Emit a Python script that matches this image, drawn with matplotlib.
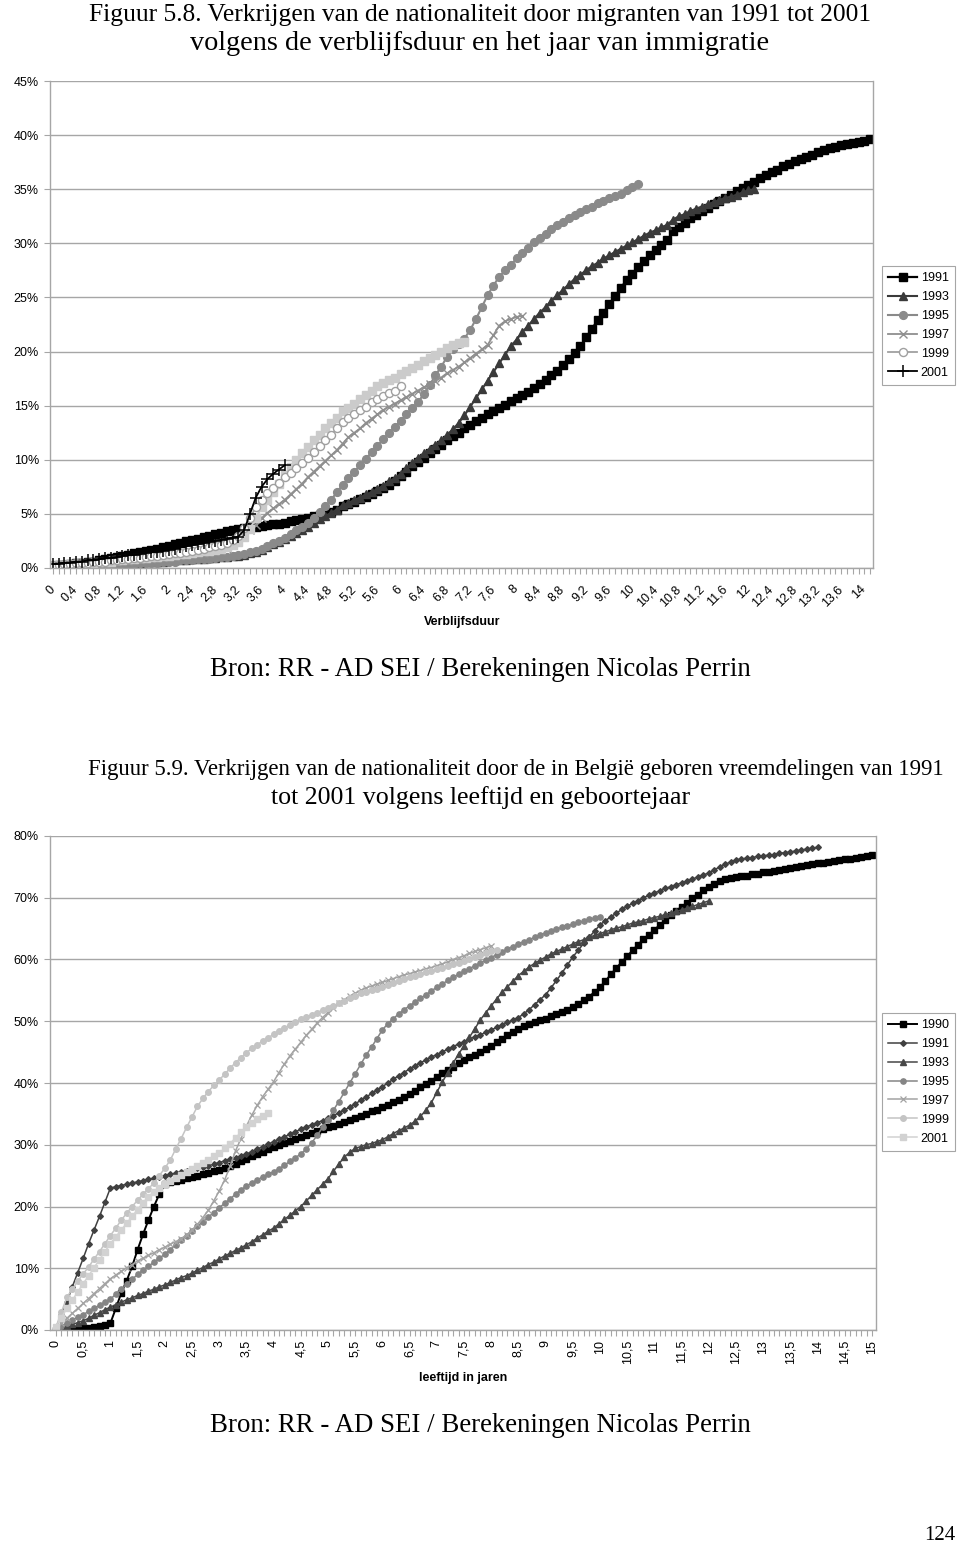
import matplotlib
matplotlib.use('Agg')
import matplotlib.pyplot as plt
import numpy as np
from matplotlib.ticker import FuncFormatter

# ---------------- Chart 1 data (Verblijfsduur, step 0.1 year) ----------------
c1_1991 = [0.2,0.3,0.3,0.4,0.5,0.5,0.6,0.6,0.7,0.8,
           0.9,1.0,1.1,1.2,1.4,1.5,1.6,1.7,1.8,1.9,
           2.0,2.2,2.3,2.5,2.6,2.7,2.9,3.0,3.1,3.2,
           3.4,3.5,3.6,3.7,3.8,3.8,3.9,4.0,4.1,4.1,
           4.2,4.3,4.4,4.5,4.6,4.8,4.9,5.1,5.2,5.4,
           5.7,5.9,6.1,6.4,6.6,6.8,7.1,7.4,7.7,8.0,
           8.5,8.9,9.4,9.8,10.2,10.6,11.0,11.4,11.8,12.2,
           12.5,12.9,13.2,13.6,13.9,14.2,14.5,14.8,15.1,15.4,
           15.7,16.0,16.3,16.6,17.0,17.4,17.8,18.2,18.8,19.3,
           19.9,20.5,21.3,22.1,22.9,23.6,24.4,25.1,25.9,26.6,
           27.2,27.8,28.4,28.9,29.4,29.8,30.3,31.1,31.5,31.9,
           32.3,32.6,33.0,33.3,33.6,33.9,34.2,34.5,34.8,35.1,
           35.4,35.7,36.0,36.3,36.6,36.8,37.1,37.3,37.6,37.8,
           38.0,38.2,38.4,38.6,38.8,38.9,39.1,39.2,39.3,39.4,
           39.5,39.6]
c1_1993 = [0.2,0.2,0.2,0.3,0.3,0.3,0.3,0.3,0.4,0.4,
           0.4,0.4,0.5,0.5,0.5,0.5,0.6,0.6,0.6,0.6,
           0.7,0.7,0.7,0.7,0.8,0.8,0.8,0.9,0.9,1.0,
           1.0,1.1,1.1,1.2,1.4,1.5,1.7,1.9,2.2,2.4,
           2.7,3.0,3.2,3.5,3.8,4.2,4.5,4.8,5.1,5.4,
           5.8,6.0,6.3,6.5,6.8,7.0,7.3,7.6,8.0,8.3,
           8.7,9.2,9.7,10.2,10.6,11.0,11.4,11.8,12.3,12.8,
           13.4,14.1,14.9,15.7,16.5,17.3,18.1,18.9,19.7,20.5,
           21.1,21.8,22.4,23.0,23.6,24.1,24.7,25.2,25.7,26.2,
           26.7,27.1,27.5,27.9,28.2,28.6,28.9,29.2,29.5,29.8,
           30.1,30.4,30.7,31.0,31.2,31.5,31.7,32.2,32.5,32.7,
           33.0,33.2,33.4,33.6,33.8,34.0,34.2,34.3,34.5,34.7,
           34.9,35.0]
c1_1995 = [0.1,0.1,0.1,0.2,0.2,0.2,0.2,0.3,0.3,0.3,
           0.3,0.4,0.4,0.4,0.4,0.5,0.5,0.5,0.5,0.6,
           0.6,0.6,0.7,0.7,0.7,0.8,0.8,0.8,0.9,1.0,
           1.0,1.1,1.2,1.3,1.5,1.6,1.8,2.0,2.3,2.5,
           2.8,3.1,3.5,3.8,4.2,4.6,5.2,5.7,6.3,7.0,
           7.7,8.3,8.9,9.5,10.1,10.7,11.3,11.9,12.5,13.0,
           13.6,14.2,14.8,15.3,16.1,16.9,17.8,18.6,19.5,20.2,
           20.7,21.2,22.0,23.0,24.1,25.2,26.1,26.9,27.5,28.0,
           28.6,29.1,29.6,30.1,30.5,30.9,31.3,31.7,32.0,32.3,
           32.6,32.9,33.2,33.4,33.7,33.9,34.2,34.4,34.6,34.9,
           35.2,35.5]
c1_1997 = [0.2,0.2,0.2,0.3,0.3,0.3,0.4,0.4,0.4,0.5,
           0.5,0.5,0.6,0.6,0.7,0.7,0.8,0.8,0.9,0.9,
           1.0,1.0,1.1,1.1,1.2,1.3,1.3,1.4,1.5,1.6,
           1.8,2.1,2.5,3.0,3.5,4.0,4.6,5.1,5.5,5.9,
           6.3,6.8,7.3,7.8,8.4,8.9,9.4,9.9,10.4,10.9,
           11.5,12.1,12.5,12.9,13.4,13.8,14.2,14.6,14.9,15.2,
           15.5,15.8,16.1,16.4,16.7,17.0,17.3,17.6,18.0,18.3,
           18.6,19.0,19.4,19.8,20.2,20.6,21.5,22.4,22.8,23.0,
           23.2,23.3]
c1_1999 = [0.3,0.3,0.4,0.4,0.5,0.5,0.5,0.6,0.6,0.6,
           0.7,0.7,0.8,0.8,0.9,0.9,1.0,1.1,1.1,1.2,
           1.3,1.4,1.4,1.5,1.6,1.7,1.8,1.9,2.0,2.1,
           2.3,2.6,3.0,3.7,4.6,5.6,6.3,6.9,7.4,7.9,
           8.4,8.8,9.2,9.7,10.2,10.7,11.3,11.8,12.3,12.9,
           13.5,13.9,14.2,14.6,14.9,15.3,15.6,15.9,16.2,16.4,
           16.8]
c1_extra = [0.3,0.3,0.3,0.4,0.4,0.4,0.5,0.5,0.6,0.6,
            0.6,0.7,0.7,0.8,0.8,0.9,0.9,1.0,1.0,1.1,
            1.1,1.2,1.3,1.3,1.4,1.5,1.6,1.6,1.7,1.8,
            1.9,2.1,2.4,2.9,3.6,4.6,5.6,6.3,7.0,7.8,
            8.6,9.3,10.0,10.6,11.2,11.8,12.3,12.9,13.4,13.9,
            14.5,14.8,15.2,15.6,16.0,16.4,16.8,17.1,17.4,17.6,
            17.9,18.2,18.5,18.8,19.1,19.4,19.7,20.0,20.3,20.6,
            20.8,20.9]
c1_2001 = [0.4,0.4,0.5,0.5,0.6,0.6,0.7,0.7,0.8,0.9,
           0.9,1.0,1.1,1.2,1.2,1.3,1.4,1.5,1.5,1.6,
           1.7,1.8,1.9,2.0,2.1,2.2,2.3,2.4,2.5,2.6,
           2.7,2.8,2.9,3.5,5.0,6.5,7.5,8.2,8.7,9.1,
           9.5]
c1_labels = ['1991', '1993', '1995', '1997', '1999', '2001']

# ---------------- Chart 2 data (leeftijd in jaren, step 0.1 year) ----------------
c2_1990 = [0.0,0.0,0.1,0.1,0.2,0.3,0.4,0.5,0.6,0.8,
           1.1,3.5,6.0,8.0,10.3,13.0,15.5,17.8,20.0,22.0,
           23.6,23.9,24.1,24.3,24.6,24.8,25.0,25.2,25.5,25.7,
           25.9,26.2,26.6,26.9,27.3,27.7,28.1,28.5,28.9,29.3,
           29.7,30.0,30.3,30.6,31.0,31.3,31.6,31.9,32.2,32.5,
           32.8,33.1,33.4,33.7,34.0,34.3,34.7,35.0,35.4,35.7,
           36.1,36.5,36.9,37.3,37.7,38.2,38.7,39.3,39.8,40.4,
           41.0,41.6,42.1,42.6,43.2,43.7,44.2,44.6,45.1,45.5,
           46.0,46.6,47.1,47.7,48.2,48.8,49.2,49.6,49.9,50.2,
           50.4,50.8,51.1,51.5,51.9,52.3,52.8,53.4,54.0,54.7,
           55.5,56.5,57.6,58.6,59.6,60.5,61.5,62.4,63.3,64.0,
           64.8,65.6,66.4,67.2,67.9,68.5,69.2,69.9,70.5,71.2,
           71.8,72.3,72.7,73.0,73.2,73.3,73.5,73.6,73.8,73.9,
           74.1,74.2,74.4,74.5,74.7,74.8,75.0,75.1,75.3,75.4,
           75.6,75.7,75.8,75.9,76.1,76.2,76.3,76.5,76.6,76.7,
           76.9]
c2_1991 = [0.4,2.4,4.5,7.0,9.3,11.6,14.0,16.2,18.4,20.7,
           23.0,23.2,23.4,23.6,23.8,24.0,24.2,24.4,24.6,24.8,
           25.0,25.2,25.4,25.6,25.8,26.0,26.2,26.4,26.6,26.9,
           27.1,27.4,27.7,27.9,28.2,28.5,28.9,29.3,29.7,30.1,
           30.5,30.9,31.3,31.7,32.1,32.5,32.9,33.2,33.6,33.9,
           34.3,34.7,35.2,35.6,36.1,36.6,37.2,37.7,38.3,38.8,
           39.4,40.0,40.6,41.2,41.7,42.3,42.8,43.3,43.7,44.2,
           44.6,45.0,45.5,45.9,46.3,46.7,47.1,47.5,47.8,48.2,
           48.6,49.0,49.4,49.8,50.2,50.6,51.2,51.9,52.7,53.5,
           54.3,55.4,56.6,57.8,59.1,60.4,61.5,62.6,63.6,64.6,
           65.6,66.3,66.9,67.5,68.1,68.6,69.1,69.5,70.0,70.4,
           70.8,71.1,71.5,71.8,72.1,72.4,72.7,73.0,73.4,73.7,
           74.0,74.5,75.0,75.4,75.8,76.1,76.3,76.4,76.5,76.7,
           76.8,76.9,77.0,77.2,77.3,77.4,77.6,77.7,77.9,78.0,
           78.2]
c2_1993 = [0.2,0.4,0.7,0.9,1.2,1.5,1.9,2.4,2.8,3.3,
           3.7,4.1,4.5,4.9,5.2,5.6,5.9,6.3,6.6,7.0,
           7.3,7.7,8.1,8.5,8.8,9.2,9.7,10.1,10.6,11.0,
           11.5,12.0,12.4,12.9,13.3,13.8,14.3,14.9,15.4,16.0,
           16.5,17.2,17.9,18.6,19.3,20.0,20.9,21.8,22.7,23.6,
           24.5,25.7,26.9,28.0,28.8,29.4,29.7,30.0,30.2,30.5,
           30.8,31.3,31.8,32.3,32.7,33.2,33.8,34.6,35.6,36.8,
           38.5,40.1,41.7,43.2,44.7,46.0,47.4,48.8,50.2,51.4,
           52.5,53.6,54.7,55.6,56.5,57.4,58.1,58.8,59.4,59.9,
           60.4,60.9,61.3,61.7,62.1,62.5,62.9,63.2,63.6,63.9,
           64.2,64.5,64.8,65.1,65.3,65.6,65.9,66.1,66.3,66.6,
           66.8,67.0,67.3,67.5,67.8,68.0,68.3,68.6,68.9,69.2,
           69.5]
c2_1995 = [0.3,0.7,1.1,1.6,2.1,2.5,3.0,3.5,4.0,4.5,
           5.0,5.8,6.6,7.4,8.2,9.0,9.7,10.3,11.0,11.6,
           12.3,13.0,13.8,14.5,15.3,16.0,16.8,17.5,18.3,19.0,
           19.8,20.5,21.2,22.0,22.7,23.3,23.8,24.3,24.8,25.2,
           25.6,26.1,26.7,27.3,27.9,28.5,29.3,30.3,31.5,32.8,
           34.0,35.6,37.0,38.5,40.0,41.5,43.0,44.5,45.8,47.2,
           48.6,49.6,50.4,51.2,51.9,52.5,53.1,53.7,54.3,54.9,
           55.5,56.0,56.6,57.1,57.6,58.1,58.5,59.0,59.4,59.9,
           60.3,60.8,61.2,61.7,62.1,62.5,62.9,63.2,63.6,64.0,
           64.3,64.6,64.9,65.2,65.4,65.7,66.0,66.2,66.5,66.7,
           66.9]
c2_1997 = [0.3,1.1,1.9,2.7,3.5,4.3,5.1,5.9,6.7,7.5,
           8.3,8.9,9.5,10.1,10.6,11.2,11.6,12.1,12.5,13.0,
           13.4,13.9,14.3,14.8,15.4,16.2,17.1,18.2,19.4,20.9,
           22.5,24.3,26.5,29.0,31.0,33.0,34.8,36.4,37.8,39.0,
           40.2,41.7,43.1,44.4,45.5,46.6,47.7,48.7,49.7,50.6,
           51.4,52.2,53.0,53.5,54.1,54.5,55.0,55.4,55.7,56.0,
           56.3,56.6,56.9,57.2,57.5,57.7,58.0,58.2,58.5,58.7,
           59.0,59.3,59.6,60.0,60.3,60.6,61.0,61.3,61.6,61.9,
           62.2]
c2_1999 = [0.5,2.9,5.3,6.6,7.9,9.1,10.2,11.5,12.7,14.0,
           15.3,16.5,17.8,18.9,20.0,21.0,22.0,22.9,23.8,25.0,
           26.2,27.5,29.3,31.0,32.8,34.5,36.2,37.5,38.6,39.6,
           40.5,41.4,42.4,43.3,44.1,44.9,45.6,46.2,46.8,47.3,
           47.9,48.4,48.9,49.4,49.9,50.3,50.7,51.0,51.4,51.8,
           52.2,52.5,52.9,53.3,53.7,54.1,54.5,54.8,55.1,55.3,
           55.6,55.9,56.2,56.5,56.8,57.1,57.4,57.7,58.0,58.2,
           58.4,58.7,58.9,59.2,59.5,59.8,60.1,60.4,60.7,61.0,
           61.3,61.6]
c2_2001 = [0.5,2.0,3.5,4.8,6.2,7.5,8.8,10.1,11.4,12.7,
           14.0,15.1,16.2,17.3,18.4,19.5,20.6,21.6,22.4,23.0,
           23.6,24.1,24.6,25.1,25.6,26.0,26.5,27.0,27.5,28.1,
           28.6,29.4,30.2,31.1,32.0,32.8,33.5,34.1,34.6,35.1]
c2_labels = ['1990', '1991', '1993', '1995', '1997', '1999', '2001']

# ---------------- figure ----------------
W, H = 960, 1550
fig = plt.figure(figsize=(W / 100, H / 100), dpi=100)
SANS = ['Liberation Sans', 'DejaVu Sans']
SERIF = ['Liberation Serif', 'DejaVu Serif']
GRID = '#a6a6a6'


def px_axes(l, t, r, b):
    return fig.add_axes([l / W, 1 - b / H, (r - l) / W, (b - t) / H])


def xvals(vals):
    return np.round(np.arange(len(vals)) * 0.1, 1)


def pct(vals):
    return np.array(vals) / 100.0


def dutch(v):
    s = ('%.1f' % v).rstrip('0').rstrip('.')
    return s.replace('.', ',')


def style_axes(ax, ymax, ystep, nx, every, xlim, xpad):
    ax.set_ylim(0, ymax)
    ax.set_xlim(*xlim)
    ax.set_yticks(np.arange(0, ymax + 1e-9, ystep))
    ax.yaxis.set_major_formatter(FuncFormatter(lambda v, p: '%d%%' % round(v * 100)))
    ax.grid(axis='y', color=GRID, lw=1.0)
    ax.set_axisbelow(True)
    for s in ax.spines.values():
        s.set_color(GRID)
        s.set_linewidth(1.0)
    ax.spines['top'].set_visible(False)
    pos = np.round(np.arange(nx) * 0.1, 1)
    ax.set_xticks(pos)
    labs = [dutch(p) if i % every == 0 else '' for i, p in enumerate(pos)]
    ax.set_xticklabels(labs)
    ax.tick_params(axis='x', length=4, width=0.8, color=GRID, pad=xpad)
    ax.tick_params(axis='y', length=4, width=0.8, color=GRID, pad=4)
    for lab in ax.get_yticklabels() + ax.get_xticklabels():
        lab.set_fontfamily(SANS)
        lab.set_fontsize(9)


LEG = dict(frameon=True, fancybox=False, edgecolor=GRID, framealpha=1,
           prop={'family': SANS, 'size': 9}, handlelength=2.3,
           handletextpad=0.3, borderpad=0.5, labelspacing=0.55, borderaxespad=0)

# ---------------- Chart 1 ----------------
ax1 = px_axes(50, 81, 873, 568)
style_axes(ax1, 0.45, 0.05, 142, 4, (-0.05, 14.15), 10)
for lab in ax1.get_xticklabels():
    lab.set_rotation(45)
    lab.set_ha('right')
    lab.set_va('center')
    lab.set_rotation_mode('anchor')

ax1.plot(xvals(c1_1991), pct(c1_1991), color='black', lw=1.6, marker='s', ms=5.8,
         mfc='black', mec='black', label=c1_labels[0])
ax1.plot(xvals(c1_1993), pct(c1_1993), color='#3a3a3a', lw=1.5, marker='^', ms=6,
         mfc='#3a3a3a', mec='#3a3a3a', label=c1_labels[1])
ax1.plot(xvals(c1_1995), pct(c1_1995), color='#8a8a8a', lw=1.5, marker='o', ms=5.6,
         mfc='#8a8a8a', mec='#8a8a8a', label=c1_labels[2])
ax1.plot(xvals(c1_1997), pct(c1_1997), color='#8f8f8f', lw=1.3, marker='x', ms=6.2,
         mew=1.0, mec='#8f8f8f', label=c1_labels[3])
ax1.plot(xvals(c1_extra), pct(c1_extra), color='#cbcbcb', lw=1.5, marker='s', ms=5.6,
         mfc='#cbcbcb', mec='#cbcbcb', label='_nolegend_')
ax1.plot(xvals(c1_1999), pct(c1_1999), color='#a0a0a0', lw=1.3, marker='o', ms=5.8,
         mfc='white', mec='#a0a0a0', mew=1.0, label=c1_labels[4])
ax1.plot(xvals(c1_2001), pct(c1_2001), color='black', lw=1.3, marker='+', ms=8,
         mew=1.1, mec='black', label=c1_labels[5])

h, l = ax1.get_legend_handles_labels()
leg1 = fig.legend(h, l, loc='upper left', bbox_to_anchor=(882 / W, 1 - 266 / H), **LEG)
leg1.get_frame().set_linewidth(0.8)

fig.text(462 / W, 1 - 622 / H, 'Verblijfsduur', ha='center', va='center',
         family=SANS, fontsize=9, fontweight='bold')

# ---------------- Chart 2 ----------------
ax2 = px_axes(50, 836, 876, 1330)
style_axes(ax2, 0.80, 0.10, 151, 5, (-0.11, 15.074), 3)
for lab in ax2.get_xticklabels():
    lab.set_rotation(90)
    lab.set_ha('center')
    lab.set_va('top')

ax2.plot(xvals(c2_1990), pct(c2_1990), color='black', lw=1.4, marker='s', ms=3.8,
         mfc='black', mec='black', label=c2_labels[0])
ax2.plot(xvals(c2_1991), pct(c2_1991), color='#404040', lw=1.1, marker='D', ms=2.9,
         mfc='#404040', mec='#404040', label=c2_labels[1])
ax2.plot(xvals(c2_1993), pct(c2_1993), color='#474747', lw=1.1, marker='^', ms=4,
         mfc='#474747', mec='#474747', label=c2_labels[2])
ax2.plot(xvals(c2_1995), pct(c2_1995), color='#858585', lw=1.1, marker='o', ms=3.8,
         mfc='#858585', mec='#858585', label=c2_labels[3])
ax2.plot(xvals(c2_1997), pct(c2_1997), color='#a3a3a3', lw=1.1, marker='x', ms=3.8,
         mew=0.9, mec='#a3a3a3', label=c2_labels[4])
ax2.plot(xvals(c2_1999), pct(c2_1999), color='#c4c4c4', lw=1.1, marker='o', ms=4,
         mfc='#c4c4c4', mec='#c4c4c4', label=c2_labels[5])
ax2.plot(xvals(c2_2001), pct(c2_2001), color='#d2d2d2', lw=1.1, marker='s', ms=4,
         mfc='#d2d2d2', mec='#d2d2d2', label=c2_labels[6])

h, l = ax2.get_legend_handles_labels()
leg2 = fig.legend(h, l, loc='upper left', bbox_to_anchor=(882 / W, 1 - 1013 / H), **LEG)
leg2.get_frame().set_linewidth(0.8)

fig.text(463 / W, 1 - 1378 / H, 'leeftijd in jaren', ha='center', va='center',
         family=SANS, fontsize=9, fontweight='bold')

# ---------------- page texts ----------------
fig.text(480 / W, 1 - 15 / H,
         'Figuur 5.8. Verkrijgen van de nationaliteit door migranten van 1991 tot 2001',
         ha='center', va='center', family=SERIF, fontsize=18.4)
fig.text(480 / W, 1 - 44 / H, 'volgens de verblijfsduur en het jaar van immigratie',
         ha='center', va='center', family=SERIF, fontsize=20.3)
fig.text(480 / W, 1 - 670 / H, 'Bron: RR - AD SEI / Berekeningen Nicolas Perrin',
         ha='center', va='center', family=SERIF, fontsize=19.4)
fig.text(88 / W, 1 - 769 / H,
         'Figuur 5.9. Verkrijgen van de nationaliteit door de in België geboren vreemdelingen van 1991',
         ha='left', va='center', family=SERIF, fontsize=16.4)
fig.text(481 / W, 1 - 798 / H, 'tot 2001 volgens leeftijd en geboortejaar',
         ha='center', va='center', family=SERIF, fontsize=18.6)
fig.text(480 / W, 1 - 1425 / H, 'Bron: RR - AD SEI / Berekeningen Nicolas Perrin',
         ha='center', va='center', family=SERIF, fontsize=19.4)
fig.text(940 / W, 1 - 1536 / H, '124', ha='center', va='center', family=SERIF, fontsize=15)

fig.savefig('out.png', dpi=100)
